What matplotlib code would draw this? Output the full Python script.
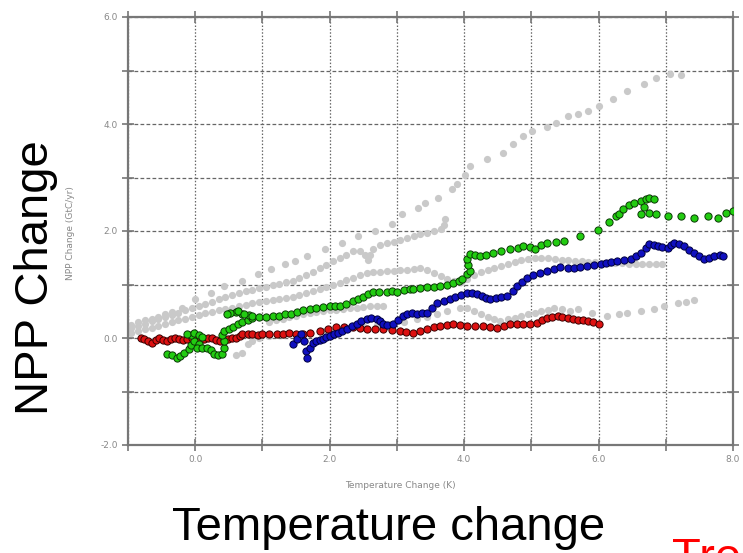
import matplotlib
matplotlib.use("Agg")
import matplotlib.pyplot as plt
from matplotlib.ticker import MultipleLocator, FuncFormatter

# ---- data ----
red_x = [-0.80, -0.76, -0.70, -0.64, -0.58, -0.54, -0.48, -0.42, -0.36, -0.30, -0.24, -0.18, -0.12, -0.05,
         0.01, 0.07, 0.13, 0.19, 0.25, 0.31, 0.37, 0.43, 0.49, 0.55, 0.61, 0.66, 0.70, 0.78, 0.85, 0.93,
         1.00, 1.10, 1.21, 1.30, 1.40, 1.50, 1.60, 1.70, 1.85, 1.97, 2.10, 2.22, 2.34, 2.45, 2.55, 2.67,
         2.79, 2.92, 3.04, 3.14, 3.24, 3.34, 3.45, 3.55, 3.64, 3.74, 3.84, 3.94, 4.04, 4.16, 4.28, 4.38,
         4.49, 4.59, 4.69, 4.78, 4.88, 4.98, 5.09, 5.16, 5.24, 5.31, 5.39, 5.46, 5.54, 5.62, 5.69, 5.77,
         5.84, 5.92, 6.00]
red_y = [0.00, -0.02, -0.06, -0.09, -0.04, 0.00, -0.03, -0.05, -0.02, 0.00, -0.01, -0.03, -0.01, 0.00,
         -0.02, -0.03, -0.01, 0.00, 0.00, -0.03, -0.06, -0.04, -0.01, 0.00, 0.00, 0.04, 0.07, 0.07, 0.07, 0.06,
         0.07, 0.07, 0.07, 0.08, 0.09, 0.07, 0.08, 0.10, 0.13, 0.17, 0.21, 0.21, 0.21, 0.19, 0.17, 0.17,
         0.17, 0.15, 0.13, 0.11, 0.10, 0.13, 0.17, 0.20, 0.22, 0.24, 0.26, 0.24, 0.22, 0.22, 0.22, 0.20,
         0.19, 0.22, 0.26, 0.26, 0.26, 0.27, 0.28, 0.33, 0.37, 0.39, 0.41, 0.39, 0.37, 0.35, 0.34, 0.33,
         0.32, 0.29, 0.26]

blue_x = [1.45, 1.52, 1.58, 1.62, 1.65, 1.67, 1.70, 1.75, 1.80, 1.85, 1.90, 1.95, 2.00, 2.07, 2.13, 2.19,
          2.26, 2.33, 2.40, 2.47, 2.55, 2.62, 2.70, 2.75, 2.79, 2.86, 2.94, 3.01, 3.09, 3.15, 3.22, 3.30,
          3.37, 3.45, 3.52, 3.60, 3.70, 3.79, 3.87, 3.96, 4.04, 4.12, 4.19, 4.26, 4.33, 4.39, 4.47, 4.55,
          4.64, 4.72, 4.79, 4.86, 4.94, 5.03, 5.13, 5.23, 5.33, 5.43, 5.54, 5.63, 5.73, 5.83, 5.93, 6.03,
          6.11, 6.19, 6.28, 6.38, 6.48, 6.55, 6.63, 6.70, 6.75, 6.82, 6.88, 6.95, 7.03, 7.08, 7.12, 7.20,
          7.27, 7.35, 7.42, 7.50, 7.57, 7.65, 7.72, 7.80, 7.85]
blue_y = [-0.11, -0.02, 0.07, -0.05, -0.25, -0.37, -0.19, -0.10, -0.06, -0.04, -0.02, 0.01, 0.04, 0.07, 0.10, 0.13,
          0.17, 0.22, 0.26, 0.31, 0.36, 0.37, 0.36, 0.31, 0.26, 0.25, 0.26, 0.33, 0.41, 0.45, 0.46, 0.45,
          0.46, 0.47, 0.56, 0.65, 0.69, 0.73, 0.77, 0.81, 0.84, 0.84, 0.82, 0.79, 0.75, 0.73, 0.74, 0.76,
          0.79, 0.88, 0.97, 1.05, 1.12, 1.17, 1.21, 1.25, 1.29, 1.32, 1.30, 1.31, 1.33, 1.35, 1.37, 1.38,
          1.40, 1.42, 1.44, 1.46, 1.48, 1.53, 1.59, 1.68, 1.76, 1.74, 1.72, 1.70, 1.68, 1.73, 1.78, 1.75,
          1.72, 1.65, 1.59, 1.53, 1.48, 1.50, 1.53, 1.55, 1.53]

green_x = [-0.42, -0.35, -0.27, -0.22, -0.16, -0.10, -0.06, -0.02, -0.06, -0.12, -0.02, 0.05, 0.10, 0.05,
           0.03, 0.10, 0.18, 0.24, 0.28, 0.34, 0.40, 0.43, 0.43, 0.40, 0.43, 0.50, 0.56, 0.63, 0.70, 0.78,
           0.84, 0.80, 0.70, 0.60, 0.52, 0.48, 0.63, 0.73, 0.85, 0.95, 1.06, 1.15, 1.25, 1.34, 1.43, 1.52,
           1.60, 1.70, 1.80, 1.90, 2.00, 2.08, 2.15, 2.24, 2.34, 2.42, 2.50, 2.57, 2.64, 2.74, 2.85, 2.93,
           3.00, 3.10, 3.19, 3.24, 3.35, 3.45, 3.55, 3.64, 3.74, 3.84, 3.92, 3.97, 4.04, 4.09, 4.06, 4.04,
           4.09, 4.16, 4.24, 4.33, 4.43, 4.55, 4.69, 4.80, 4.88, 4.98, 5.06, 5.15, 5.24, 5.36, 5.48, 5.73,
           5.99, 6.15, 6.26, 6.30, 6.36, 6.45, 6.52, 6.63, 6.70, 6.75, 6.82, 6.68, 6.63, 6.75, 6.85, 7.03,
           7.22, 7.42, 7.63, 7.78, 7.90, 8.00]
green_y = [-0.30, -0.31, -0.38, -0.33, -0.28, -0.20, -0.14, -0.06, 0.05, 0.08, 0.10, 0.06, 0.02, -0.12,
           -0.19, -0.19, -0.19, -0.22, -0.30, -0.32, -0.29, -0.18, -0.05, 0.05, 0.13, 0.17, 0.20, 0.26, 0.30, 0.34,
           0.38, 0.43, 0.44, 0.48, 0.47, 0.44, 0.50, 0.45, 0.41, 0.40, 0.39, 0.41, 0.41, 0.44, 0.45, 0.49,
           0.52, 0.55, 0.57, 0.58, 0.59, 0.60, 0.60, 0.64, 0.69, 0.73, 0.77, 0.82, 0.86, 0.86, 0.86, 0.87,
           0.86, 0.89, 0.91, 0.92, 0.93, 0.95, 0.96, 0.97, 1.00, 1.03, 1.07, 1.10, 1.20, 1.25, 1.36, 1.47,
           1.57, 1.56, 1.53, 1.56, 1.59, 1.62, 1.66, 1.69, 1.72, 1.70, 1.66, 1.73, 1.78, 1.80, 1.81, 1.91,
           2.02, 2.17, 2.28, 2.32, 2.41, 2.48, 2.52, 2.56, 2.60, 2.62, 2.60, 2.45, 2.32, 2.33, 2.32, 2.28,
           2.28, 2.24, 2.28, 2.24, 2.34, 2.37]

# grey runs (other simulations)
grey1_x = [-0.95, -0.85, -0.75, -0.65, -0.55, -0.45, -0.35, -0.20, 0.00, 0.24, 0.43, 0.69, 0.93, 1.13, 1.33,
           1.48, 1.67, 1.93, 2.18, 2.42, 2.67, 2.93, 3.07, 3.31, 3.42, 3.61, 3.82, 3.90, 4.01, 4.09, 4.34,
           4.58, 4.73, 4.88, 5.01, 5.24, 5.36, 5.54, 5.70, 5.85, 6.00, 6.22, 6.43, 6.67, 6.85, 7.07, 7.22]
grey1_y = [0.25, 0.29, 0.33, 0.36, 0.40, 0.44, 0.48, 0.56, 0.72, 0.84, 0.97, 1.07, 1.20, 1.29, 1.38,
           1.44, 1.53, 1.66, 1.78, 1.91, 2.00, 2.13, 2.32, 2.43, 2.52, 2.62, 2.79, 2.88, 3.05, 3.21, 3.35,
           3.46, 3.63, 3.78, 3.87, 3.94, 4.02, 4.15, 4.19, 4.24, 4.34, 4.47, 4.62, 4.75, 4.86, 4.93, 4.92]

grey2_x = [-0.95, -0.85, -0.75, -0.65, -0.55, -0.45, -0.35, -0.25, -0.15, -0.05, 0.05, 0.15, 0.25, 0.35,
           0.45, 0.55, 0.65, 0.75, 0.85, 0.95, 1.05, 1.15, 1.25, 1.35, 1.45, 1.55, 1.65, 1.75, 1.85, 1.95,
           2.05, 2.15, 2.25, 2.35, 2.45, 2.52, 2.57, 2.60, 2.65, 2.75, 2.85, 2.95, 3.05, 3.15, 3.25, 3.35,
           3.45, 3.55, 3.65, 3.70, 3.72]
grey2_y = [0.18, 0.22, 0.27, 0.31, 0.35, 0.40, 0.43, 0.47, 0.52, 0.56, 0.60, 0.64, 0.68, 0.72,
           0.76, 0.80, 0.84, 0.87, 0.90, 0.93, 0.96, 0.99, 1.01, 1.04, 1.07, 1.12, 1.18, 1.24, 1.30, 1.36,
           1.43, 1.50, 1.56, 1.62, 1.62, 1.55, 1.45, 1.55, 1.66, 1.74, 1.78, 1.80, 1.83, 1.87, 1.91, 1.94,
           1.96, 2.00, 2.04, 2.12, 2.22]

grey3_x = [-0.95, -0.85, -0.75, -0.65, -0.55, -0.45, -0.35, -0.25, -0.15, -0.05, 0.05, 0.15, 0.25, 0.35,
           0.45, 0.55, 0.65, 0.75, 0.85, 0.95, 1.05, 1.15, 1.25, 1.35, 1.45, 1.55, 1.65, 1.75, 1.85, 1.95,
           2.05, 2.15, 2.25, 2.35, 2.45, 2.55, 2.65, 2.75, 2.85, 2.95, 3.05, 3.15, 3.25, 3.35, 3.45, 3.55,
           3.65, 3.75, 3.85, 3.95, 4.05, 4.15, 4.25, 4.35, 4.45, 4.55, 4.65, 4.75, 4.85, 4.95, 5.05, 5.15,
           5.25, 5.35, 5.45, 5.55, 5.65, 5.75, 5.85, 5.95, 6.05, 6.15, 6.25, 6.35, 6.45, 6.55, 6.65, 6.75,
           6.85, 6.95]
grey3_y = [0.10, 0.13, 0.16, 0.19, 0.22, 0.26, 0.29, 0.33, 0.36, 0.40, 0.43, 0.46, 0.49, 0.52,
           0.55, 0.57, 0.60, 0.62, 0.65, 0.67, 0.69, 0.71, 0.72, 0.74, 0.76, 0.80, 0.84, 0.88, 0.91, 0.95,
           0.99, 1.03, 1.08, 1.13, 1.18, 1.21, 1.23, 1.24, 1.25, 1.26, 1.27, 1.28, 1.29, 1.30, 1.28, 1.22,
           1.15, 1.10, 1.06, 1.04, 1.10, 1.18, 1.23, 1.27, 1.31, 1.35, 1.39, 1.42, 1.45, 1.47, 1.49, 1.50,
           1.49, 1.48, 1.46, 1.45, 1.44, 1.43, 1.42, 1.42, 1.41, 1.41, 1.40, 1.40, 1.39, 1.39, 1.38, 1.38,
           1.38, 1.38]

grey4_x = [1.10, 1.20, 1.30, 1.40, 1.50, 1.60, 1.70, 1.80, 1.90, 2.00, 2.10, 2.20, 2.30, 2.40, 2.50,
           2.60, 2.70, 2.80]
grey4_y = [0.30, 0.33, 0.36, 0.39, 0.42, 0.45, 0.47, 0.49, 0.50, 0.52, 0.53, 0.55, 0.56, 0.57, 0.58,
           0.59, 0.60, 0.60]

grey5_x = [0.60, 0.70, 0.78, 0.85, 0.95, 1.10, 1.30, 1.50, 1.70, 1.90, 2.10, 2.30, 2.50, 2.70, 2.90,
           3.10, 3.30, 3.45, 3.60, 3.75, 3.94, 4.04, 4.15, 4.25, 4.35, 4.45, 4.54, 4.65, 4.75, 4.85, 4.95,
           5.05, 5.15, 5.25, 5.33, 5.45, 5.58, 5.69, 5.90, 6.13, 6.30, 6.43, 6.63, 6.82, 6.97, 7.18, 7.30,
           7.42]
grey5_y = [-0.32, -0.28, -0.12, -0.05, 0.00, 0.03, 0.06, 0.08, 0.10, 0.13, 0.16, 0.19, 0.22, 0.25, 0.27,
           0.30, 0.35, 0.40, 0.45, 0.50, 0.56, 0.56, 0.50, 0.45, 0.40, 0.36, 0.32, 0.35, 0.38, 0.41, 0.44,
           0.47, 0.50, 0.53, 0.56, 0.54, 0.50, 0.54, 0.46, 0.41, 0.45, 0.47, 0.50, 0.54, 0.60, 0.65, 0.68,
           0.71]

fig = plt.figure(figsize=(7.43, 5.53), dpi=100)
ax = fig.add_axes([128 / 743, 108 / 553, 605 / 743, 428 / 553])

grey = "#c9c9c9"
for gx, gy in [(grey1_x, grey1_y), (grey2_x, grey2_y), (grey3_x, grey3_y),
               (grey4_x, grey4_y), (grey5_x, grey5_y)]:
    ax.plot(gx, gy, "o", ms=5.2, color=grey, mec="none", zorder=2)

ax.plot(red_x, red_y, "o", ms=5.2, color="#dd1111", mec="#3a0000", mew=0.7, zorder=3)
ax.plot(green_x, green_y, "o", ms=5.2, color="#22cc11", mec="#0a3a05", mew=0.7, zorder=4)
ax.plot(blue_x, blue_y, "o", ms=5.2, color="#1010c0", mec="#000040", mew=0.7, zorder=5)

ax.set_xlim(-1, 8)
ax.set_ylim(-2, 6)
ax.xaxis.set_major_locator(MultipleLocator(1))
ax.yaxis.set_major_locator(MultipleLocator(1))
fmt = FuncFormatter(lambda v, p: f"{v:.1f}" if round(v) % 2 == 0 else "")
ax.xaxis.set_major_formatter(fmt)
ax.yaxis.set_major_formatter(fmt)

ax.xaxis.grid(True, color="#666666", linestyle=(0, (1.2, 1.5)), linewidth=0.9)
ax.yaxis.grid(True, color="#666666", linestyle=(0, (3, 1.8)), linewidth=0.9)
ax.set_axisbelow(True)

for s in ax.spines.values():
    s.set_color("#777777")
    s.set_linewidth(1.6)
ax.tick_params(direction="inout", length=9, width=1.2, color="#777777",
               labelsize=6.5, labelcolor="#888888", top=True, right=True, pad=3)

ax.set_xlabel("Temperature Change (K)", fontsize=6.5, color="#888888")
ax.xaxis.set_label_coords((400 - 128) / 605, -0.084)
ax.set_ylabel("NPP Change (GtC/yr)", fontsize=6.5, color="#888888")
ax.yaxis.set_label_coords(-0.088, 0.495)

big = ["Liberation Sans", "DejaVu Sans"]
fig.text(36 / 743, (553 - 278) / 553, "NPP Change", rotation=90, fontsize=34,
         family=big, ha="center", va="center", color="black")
fig.text(172 / 743, 13 / 553, "Temperature change", fontsize=34, family=big,
         ha="left", va="baseline", color="black")
# red heading only partly inside the picture, as in the original
fig.text(672 / 743, 16 / 553, "Trend", fontsize=34, family=big,
         ha="left", va="top", color="#ff0000")

fig.savefig("out.png", dpi=100, facecolor="white")
